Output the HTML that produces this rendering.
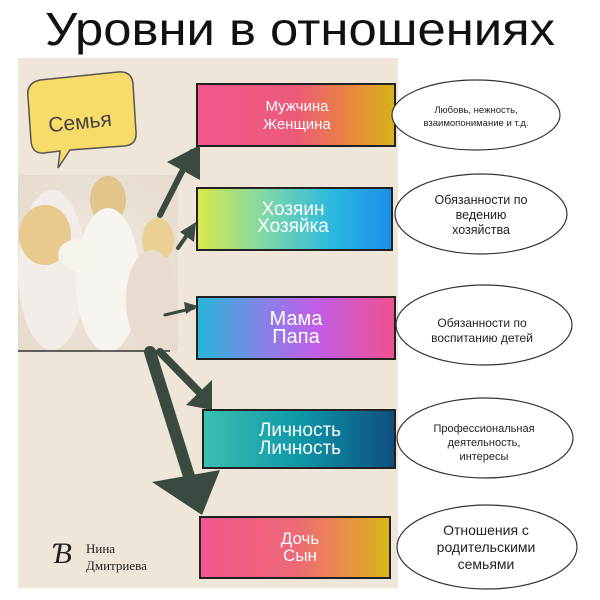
<!DOCTYPE html>
<html><head><meta charset="utf-8"><style>
body{margin:0;background:#fff;}
svg{display:block;font-family:"Liberation Sans","DejaVu Sans",sans-serif;}
</style></head><body>
<svg width="600" height="600" viewBox="0 0 600 600" xmlns="http://www.w3.org/2000/svg">
<defs>
<linearGradient id="g1"><stop offset="0" stop-color="#f2578f"/><stop offset="0.5" stop-color="#ec5a78"/><stop offset="0.8" stop-color="#e98a3a"/><stop offset="1" stop-color="#d6b41a"/></linearGradient>
<linearGradient id="g2"><stop offset="0" stop-color="#dce84a"/><stop offset="0.35" stop-color="#7fd8a8"/><stop offset="0.7" stop-color="#2ab8e0"/><stop offset="1" stop-color="#1a8ee8"/></linearGradient>
<linearGradient id="g3"><stop offset="0" stop-color="#27b5d8"/><stop offset="0.35" stop-color="#8a80e8"/><stop offset="0.6" stop-color="#c05ee8"/><stop offset="1" stop-color="#f0508e"/></linearGradient>
<linearGradient id="g4"><stop offset="0" stop-color="#3cc0b0"/><stop offset="0.5" stop-color="#0e98a8"/><stop offset="1" stop-color="#0e4e80"/></linearGradient>
<linearGradient id="g5"><stop offset="0" stop-color="#f2578f"/><stop offset="0.5" stop-color="#ee6878"/><stop offset="0.8" stop-color="#e89440"/><stop offset="1" stop-color="#d8b818"/></linearGradient>
<radialGradient id="ph" cx="0.5" cy="0.5" r="0.7"><stop offset="0" stop-color="#efe8e2"/><stop offset="1" stop-color="#e6dacb"/></radialGradient>
</defs>
<text x="45" y="45" font-size="46" fill="#111" textLength="510" lengthAdjust="spacingAndGlyphs">Уровни в отношениях</text>
<rect x="18" y="58" width="380" height="530" fill="#efe5d8"/>
<!-- speech bubble -->
<path d="M28 97 Q26 83 40 80 L118 72 Q132 71 133 84 L136 132 Q137 145 124 146 L70 150 L58 168 L60 151 L44 153 Q32 154 31 141 Z" fill="#f7dc6a" stroke="#555" stroke-width="1.5"/>
<text x="80" y="129" text-anchor="middle" font-size="21" fill="#444" transform="rotate(-6 80 122)">Семья</text>
<!-- photo -->
<rect x="18" y="175" width="160" height="176" fill="url(#ph)"/>
<ellipse cx="52" cy="270" rx="34" ry="80" fill="#f2ede8"/>
<ellipse cx="45" cy="235" rx="26" ry="30" fill="#e8c98e"/>
<ellipse cx="108" cy="200" rx="18" ry="24" fill="#e2c58a"/>
<ellipse cx="108" cy="280" rx="32" ry="72" fill="#f7f4f0"/>
<ellipse cx="158" cy="240" rx="16" ry="22" fill="#ead095"/>
<ellipse cx="152" cy="300" rx="26" ry="50" fill="#eadbd0"/>
<ellipse cx="78" cy="255" rx="20" ry="16" fill="#f6f2ec"/>
<line x1="18" y1="351" x2="170" y2="351" stroke="#333" stroke-width="1.5"/>
<!-- arrows -->
<g fill="#3a4a40" stroke="#3a4a40" stroke-linecap="round">
<line x1="160" y1="215" x2="192" y2="152" stroke-width="6"/>
<polygon points="167,162 200,145 200,180" stroke="none"/>
<line x1="178" y1="248" x2="192" y2="228" stroke-width="4"/>
<polygon points="180,232 196,222 194,242" stroke="none"/>
<line x1="165" y1="315" x2="194" y2="308" stroke-width="3"/>
<polygon points="184,302 198,306 186,314" stroke="none"/>
<line x1="160" y1="352" x2="205" y2="398" stroke-width="8"/>
<polygon points="186,405 212,380 212,410" stroke="none"/>
<line x1="150" y1="352" x2="198" y2="505" stroke-width="12"/>
<polygon points="152,482 220,470 202,515" stroke="none"/>
</g>
<!-- boxes -->
<g stroke="#222" stroke-width="2">
<rect x="197" y="84" width="198" height="62" fill="url(#g1)"/>
<rect x="197" y="188" width="195" height="62" fill="url(#g2)"/>
<rect x="197" y="297" width="198" height="62" fill="url(#g3)"/>
<rect x="203" y="410" width="192" height="58" fill="url(#g4)"/>
<rect x="200" y="517" width="190" height="61" fill="url(#g5)"/>
</g>
<g fill="#fff" text-anchor="middle">
<text x="297" y="111" font-size="15">Мужчина</text><text x="297" y="129" font-size="15">Женщина</text>
<text x="293" y="215" font-size="19">Хозяин</text><text x="293" y="232" font-size="19">Хозяйка</text>
<text x="296" y="325" font-size="20">Мама</text><text x="296" y="343" font-size="20">Папа</text>
<text x="300" y="436" font-size="19">Личность</text><text x="300" y="454" font-size="19">Личность</text>
<text x="300" y="544" font-size="17">Дочь</text><text x="300" y="561" font-size="17">Сын</text>
</g>
<!-- logo -->
<text x="52" y="563" font-size="30" fill="#222" font-family="Liberation Serif,serif" font-style="italic">Ɓ</text>
<text x="86" y="553" font-size="13" fill="#222" font-family="Liberation Serif,serif">Нина</text>
<text x="86" y="570" font-size="13" fill="#222" font-family="Liberation Serif,serif">Дмитриева</text>
<!-- ellipses -->
<g fill="#fff" stroke="#333" stroke-width="1.2">
<ellipse cx="476" cy="115" rx="84" ry="35"/>
<ellipse cx="481" cy="214" rx="86" ry="40"/>
<ellipse cx="484" cy="325" rx="88" ry="40"/>
<ellipse cx="485" cy="438" rx="88" ry="40"/>
<ellipse cx="487" cy="547" rx="90" ry="42"/>
</g>
<g fill="#222" text-anchor="middle">
<text x="476" y="113" font-size="9.5">Любовь, нежность,</text><text x="476" y="126" font-size="9.5">взаимопонимание и т.д.</text>
<text x="481" y="204" font-size="12.5">Обязанности по</text><text x="481" y="219" font-size="12.5">ведению</text><text x="481" y="234" font-size="12.5">хозяйства</text>
<text x="482" y="327" font-size="12">Обязанности по</text><text x="482" y="342" font-size="12">воспитанию детей</text>
<text x="484" y="432" font-size="11">Профессиональная</text><text x="484" y="446" font-size="11">деятельность,</text><text x="484" y="460" font-size="11">интересы</text>
<text x="486" y="535" font-size="14">Отношения с</text><text x="486" y="552" font-size="14">родительскими</text><text x="486" y="569" font-size="14">семьями</text>
</g>
</svg>
</body></html>
